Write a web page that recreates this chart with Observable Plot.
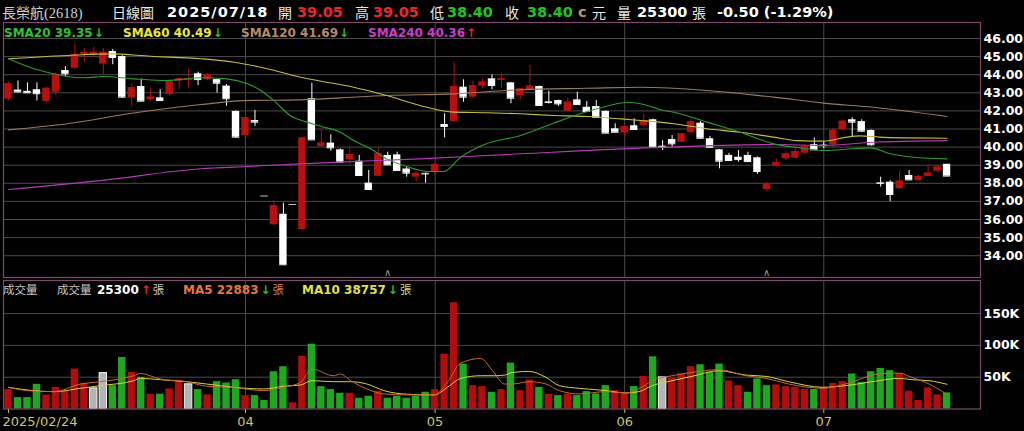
<!DOCTYPE html>
<html><head><meta charset="utf-8">
<script src="https://cdn.jsdelivr.net/npm/d3@7"></script>
<script src="https://cdn.jsdelivr.net/npm/@observablehq/plot@0.6"></script>
<style>
html,body{margin:0;padding:0;background:#000}
body{width:1024px;height:431px;overflow:hidden;position:relative;font-family:"DejaVu Sans",sans-serif}
#price,#vol{position:absolute;left:0}
#price{top:0}
#vol{top:278px}
.t{position:absolute;white-space:nowrap;line-height:18px}
.b{font-weight:bold;font-family:"DejaVu Sans",sans-serif}
.cjk{font-family:"Noto Sans CJK TC",sans-serif}
</style></head><body>
<div id="price"></div><div id="vol"></div><div id="hdr"></div>
<script>
// ---------- data ----------
const stockName = "長榮航(2618)";
const lastDate = "2025/07/18";
const opens  = [42.65,43.15,43.08,43.17,42.52,43.03,44.23,44.36,45.12,45.06,44.6,45.28,45.0,42.72,43.35,42.61,42.72,42.9,43.64,43.68,44.05,43.72,43.73,43.37,41.97,40.64,41.47,37.3,35.71,36.29,36.83,35.45,42.67,40.03,40.22,39.85,39.3,39.22,38.01,38.39,39.54,39.57,38.79,38.34,38.55,38.61,41.25,41.41,43.31,42.76,43.37,43.77,43.68,43.55,42.85,43.17,43.35,42.5,42.57,41.98,42.61,42.2,42.24,41.97,41.01,40.77,41.18,41.19,41.51,40.05,40.42,40.27,40.79,41.32,40.46,39.85,39.54,39.44,39.54,39.41,37.66,38.98,39.35,39.39,39.66,40.13,40.11,40.13,40.97,41.51,41.41,40.92,38.03,38.06,37.7,38.43,38.15,38.38,38.67,39.05];
const highs  = [43.6,43.65,43.55,43.55,43.3,44.1,44.45,45.7,45.45,45.5,45.45,45.4,45.05,43.5,43.77,43.25,43.17,43.7,43.83,44.27,44.14,44.05,43.75,43.46,42.0,42.12,42.02,37.3,37.05,36.9,36.83,40.5,43.53,40.92,40.68,39.9,40.0,39.54,38.71,39.96,39.72,39.72,38.89,38.65,38.56,39.11,41.84,44.69,43.72,43.64,43.77,43.99,44.08,43.57,43.25,44.51,43.37,43.09,42.6,42.7,43.03,42.52,42.57,42.0,41.29,41.2,41.56,41.8,41.55,40.36,40.64,40.75,41.56,41.41,40.59,39.87,39.66,39.81,39.72,39.45,38.06,39.35,39.77,39.91,40.14,40.51,40.27,41.01,41.47,41.62,41.51,40.95,38.34,38.15,38.67,38.71,38.45,39.0,38.95,39.05];
const lows   = [42.55,43.0,42.98,42.55,42.45,42.85,43.9,44.3,44.7,44.93,44.0,44.55,42.7,42.2,42.5,42.48,42.55,42.8,43.13,43.25,43.4,43.68,42.98,42.26,40.5,40.6,41.14,37.3,35.65,33.5,36.83,35.45,40.4,40.0,39.77,39.1,39.04,38.4,37.65,38.35,39.0,38.7,38.34,38.1,38.0,38.43,40.51,41.35,42.48,42.67,43.22,43.17,43.22,42.39,42.61,43.13,42.28,42.39,42.24,41.95,42.33,41.93,41.63,40.75,40.8,40.6,40.95,41.1,39.97,39.81,40.0,40.25,40.77,40.43,39.95,38.8,39.2,39.17,39.15,38.49,37.51,38.89,39.26,39.37,39.59,39.83,39.9,39.96,40.95,40.55,40.83,40.05,37.79,36.99,37.68,38.15,38.1,38.35,38.6,38.40];
const closes = [43.5,43.05,43.0,42.95,43.25,44.0,44.05,45.12,45.24,45.24,45.24,44.95,42.76,43.28,42.54,42.76,42.57,43.64,43.77,43.77,43.73,43.99,43.53,42.67,40.55,41.62,41.38,37.3,36.77,33.5,36.83,40.5,40.4,40.22,39.96,39.17,39.59,38.43,37.66,39.63,39.02,38.71,38.56,38.55,38.52,39.04,41.14,43.35,42.76,43.4,43.59,43.4,43.77,42.70,43.22,43.37,42.3,42.46,42.39,42.48,42.35,41.97,41.65,40.77,40.82,41.14,40.97,41.47,40.0,40.0,40.18,40.73,41.41,40.49,39.99,39.22,39.26,39.31,39.2,38.65,37.93,39.13,39.63,39.76,40.03,39.85,40.08,40.92,41.43,41.38,40.88,40.13,38.0,37.38,38.12,38.19,38.38,38.56,38.9,38.40];
// volume in thousands of lots (張)
const volumes = [30.5,18,18,38.8,22,34,27.9,62.8,40.3,32.5,56.5,36.7,81,57.5,49.7,23.2,23.2,31.5,44,38.8,30.5,22.1,43,40.9,46.1,21.1,21.1,13.3,58.6,66.4,9.6,82.6,101.8,35.2,30.5,24.7,24.7,16.9,20,27.9,16.9,20,16.9,20,26.3,30.5,86.2,167,70.6,36.7,35.2,26.3,30.5,72.2,28.9,45.6,34.1,23.2,21.1,23.2,21.1,27.3,23.7,36.7,28.9,23.7,35.2,51.3,82,49.7,48.1,55,66.4,69.5,57.5,70.6,44,36.7,26.3,47.2,36.7,37.8,35.2,34.1,30.5,30.5,34.1,40.3,43,55,41.9,58.6,63.8,60.2,56,27.9,13.3,33.1,22.1,25.3];
// r = up, g = down, w = unchanged (vs previous close), ten bars per chunk
const volDirChunks = ["rgggrrrrrw","wggrgrgrrw","grgggrgggg","rrggggrggr","gggggrrrgr","rgrgrrgrgr","ggggrrgrgw","rrrgggrrgg","grrrrgrrrg","ggggrrrrrg"];
// moving averages: [bar index, value]
const sma20 = [[0,44.88],[2.7,44.33],[4.8,44.05],[6.2,43.9],[8,43.83],[10,43.9],[13.2,43.77],[16.7,43.68],[20.3,43.83],[23,43.77],[25.2,43.5],[26.6,43.13],[28,42.57],[29.7,41.75],[31.5,41.38],[33,41.14],[35,40.82],[36.4,40.36],[38.2,39.91],[39.9,39.35],[42,38.93],[44.2,38.65],[45.9,38.65],[47.7,39.44],[50.2,40.14],[54,40.64],[57.5,41.32],[60.3,41.84],[63.1,42.26],[65.3,42.48],[67.4,42.3],[68.8,42.06],[70.2,41.93],[73.7,41.38],[77.2,40.82],[80.7,40.18],[83.5,39.96],[86,39.81],[89.1,39.91],[90.9,39.96],[93,39.63],[95.5,39.44],[99,39.35]];
const sma60 = [[0,44.88],[6.2,45.06],[10.8,45.15],[15,45.02],[20.3,44.88],[23.8,44.69],[27.3,44.33],[30.8,43.86],[33,43.64],[36.4,43.31],[39.9,42.85],[43.4,42.3],[47,41.93],[50.5,41.9],[54,41.84],[57.5,41.75],[61,41.69],[64.6,41.56],[66.7,41.47],[70.2,41.29],[73.7,41.01],[77.2,40.82],[80.7,40.55],[83.2,40.36],[86,40.33],[88.4,40.55],[89.8,40.62],[91.9,40.55],[94.7,40.51],[99,40.49]];
const sma120 = [[0,40.95],[6.2,41.29],[13.2,41.88],[20.3,42.35],[24.8,42.57],[30.8,42.61],[35,42.72],[39.9,42.85],[47,42.94],[54,43.17],[61,43.25],[66.7,43.31],[73.7,43.13],[80.7,42.76],[86,42.43],[91.2,42.2],[99,41.69]];
const sma240 = [[0,37.66],[9.7,38.15],[20.3,38.8],[25.2,38.93],[33,39.13],[43.4,39.35],[54,39.63],[68,39.97],[80.7,40.14],[86,40.09],[91.2,40.27],[99,40.36]];
const volMa5 = [[0,34.1],[2,28.9],[4.8,27.3],[7.6,39.3],[9.7,42.9],[13.2,52.3],[13.9,55.9],[16,47.1],[18.8,42.9],[20.9,35.7],[23.8,33.6],[26.9,28.9],[29,34.1],[30.8,41.9],[32,62.8],[34.3,52.3],[35,55],[36.1,44.5],[37.8,31.5],[39.6,23.7],[42.1,22.1],[44.9,22.1],[46.3,41.9],[47.7,72.2],[49.8,79.4],[51.2,57.5],[52.3,39.3],[53.2,39.3],[54.9,42.9],[56.7,39.3],[58.1,28.9],[60.2,23.7],[63,27.3],[65.1,25.2],[66.5,31.5],[67.9,44.5],[70,52.3],[72.1,57.5],[74.9,61.8],[77.8,52.3],[79.9,48.1],[82.3,39.3],[85.9,32.5],[88.3,39.3],[91.8,55],[93.9,56.4],[95.3,49.7],[97.1,39.3],[99,22.9]];
const volMa10 = [[0,34.1],[2,29.9],[4.8,27.3],[7.6,32.5],[9.7,36.7],[13.2,44.5],[13.9,48.1],[16,46.1],[18.8,42.9],[20.9,39.3],[23.8,34.1],[26.9,31.5],[29,35.7],[30.8,37.8],[32,44.5],[34.3,42.9],[36.1,42.9],[37.8,39.3],[39.6,28.9],[42.1,23.2],[44.9,22.1],[46.3,34.1],[47.7,48.1],[49.8,52.3],[51.2,52.3],[52.3,53.3],[53.2,57.5],[54.9,59.1],[56.7,49.7],[58.1,36.7],[60.2,32.5],[63,29],[65.1,25.2],[66.5,27.3],[67.9,36.7],[70,44.5],[72.1,51.3],[74.9,60.2],[77.8,53.3],[79.9,51.3],[82.3,42.9],[85.9,34.1],[88.3,36.7],[91.8,44.5],[93.9,48.1],[95.3,46.1],[97.1,44.5],[99,38.8]];
const monthIdx = [0,25,45,65,86];
const monthLabels = ["2025/02/24","04","05","06","07"];
const priceTicks = [34,35,36,37,38,39,40,41,42,43,44,45,46];
const volTicks = [50,100,150];
const markIdx = [40,80];
const smaArrows = ["↓","↓","↓","↑"];
const volMa5Last = 22883, volMa10Last = 38757;
const volArrows = ["↑","↓","↓"];

// ---------- build ----------
const volDir = volDirChunks.join("");
const candles = closes.map((c,i)=>({i, o:opens[i], h:highs[i], l:lows[i], c, v:volumes[i], d:volDir[i]}));
const RED="#b80f0f", WHITE="#ffffff", FLAT="#c4c4c4", GRID="#4a4a4a", FRAME="#7d4a68";
const cCol = d => d.c > d.o ? RED : d.c < d.o ? WHITE : FLAT;
const vCol = d => d.d === "r" ? "#b30c0c" : d.d === "g" ? "#1fa81f" : "#b4b4b4";
const xDom = [-0.527, 102.53];
const hw = 0.39;

const price = Plot.plot({
  width:1024, height:280, marginTop:22, marginBottom:3, marginLeft:3, marginRight:44,
  style:{background:"transparent", overflow:"visible"},
  x:{type:"linear", domain:xDom, axis:null},
  y:{domain:[32.796,46.884], axis:null},
  marks:[
    Plot.ruleY(priceTicks, {stroke:GRID, strokeWidth:1}),
    Plot.ruleX(monthIdx.slice(1), {stroke:GRID, strokeWidth:1}),
    Plot.ruleX(candles, {x:"i", y1:"l", y2:"h", stroke:cCol, strokeWidth:1}),
    Plot.rect(candles, {x1:d=>d.i-hw, x2:d=>d.i+hw, y1:"o", y2:"c", fill:cCol}),
    Plot.ruleY(candles, {y:"c", x1:d=>d.i-hw, x2:d=>d.i+hw, stroke:cCol, strokeWidth:1}),
    Plot.line(sma240, {x:d=>d[0], y:d=>d[1], stroke:"#b43cb4", strokeWidth:1.1, curve:"monotone-x"}),
    Plot.line(sma120, {x:d=>d[0], y:d=>d[1], stroke:"#9a7a5c", strokeWidth:1.1, curve:"monotone-x"}),
    Plot.line(sma60, {x:d=>d[0], y:d=>d[1], stroke:"#c2bc44", strokeWidth:1.1, curve:"monotone-x"}),
    Plot.line(sma20, {x:d=>d[0], y:d=>d[1], stroke:"#2f9a2f", strokeWidth:1.1, curve:"monotone-x"}),
    Plot.text(markIdx, {x:d=>d, frameAnchor:"bottom", dy:-2, text:()=>"∧", fill:"#9a9a9a", fontSize:10}),
    Plot.text(priceTicks, {y:d=>d, frameAnchor:"right", textAnchor:"start", dx:3, text:d=>d.toFixed(2), fill:"#ffffff", fontWeight:"bold", fontSize:12.5, fontFamily:"DejaVu Sans"}),
    Plot.frame({stroke:FRAME, strokeWidth:1.2})
  ]
});
document.getElementById("price").append(price);

const vol = Plot.plot({
  width:1024, height:153, marginTop:2, marginBottom:22.5, marginLeft:3, marginRight:44,
  style:{background:"transparent", overflow:"visible"},
  x:{type:"linear", domain:xDom, axis:null},
  y:{domain:[0,202], axis:null},
  marks:[
    Plot.ruleY(volTicks, {stroke:GRID, strokeWidth:1}),
    Plot.ruleX(monthIdx.slice(1), {stroke:GRID, strokeWidth:1}),
    Plot.rect(candles, {x1:d=>d.i-hw, x2:d=>d.i+hw, y1:0, y2:"v", fill:vCol, stroke:d=>d.d==="w"?"#f0f0f0":"none", strokeWidth:1}),
    Plot.line(volMa10, {x:d=>d[0], y:d=>d[1], stroke:"#d8d244", strokeWidth:1, curve:"monotone-x"}),
    Plot.line(volMa5, {x:d=>d[0], y:d=>d[1], stroke:"#c4682e", strokeWidth:1, curve:"monotone-x"}),
    Plot.text(volTicks, {y:d=>d, frameAnchor:"right", textAnchor:"start", dx:3, text:d=>d+"K", fill:"#ffffff", fontWeight:"bold", fontSize:12.5, fontFamily:"DejaVu Sans"}),
    Plot.ruleX(monthIdx, {y1:0, y2:-7, stroke:"#c8bf6a", strokeWidth:1}),
    Plot.text(monthIdx.slice(0,1), {x:d=>d, frameAnchor:"bottom", dy:17, dx:-6, textAnchor:"start", text:()=>monthLabels[0], fill:"#cfc36c", fontSize:13, fontFamily:"DejaVu Sans"}),
    Plot.text(monthIdx.slice(1), {x:d=>d, frameAnchor:"bottom", dy:17, textAnchor:"middle", text:(d,i)=>monthLabels[i+1], fill:"#cfc36c", fontSize:13, fontFamily:"DejaVu Sans"}),
    Plot.frame({stroke:FRAME, strokeWidth:1.2})
  ]
});
document.getElementById("vol").append(vol);

// ---------- header & legends (real text) ----------
const hdr = document.getElementById("hdr");
// parts: [text, color, class, size, extraStyle]
function group(left, top, parts){
  const g = document.createElement("span");
  g.className = "t";
  g.style.left = left+"px"; g.style.top = top+"px";
  for (const [txt,color,cls,size,extra] of parts){
    const s = document.createElement("span");
    s.className = cls || "";
    s.textContent = txt;
    s.style.color = color; s.style.fontSize = size+"px";
    if (extra) Object.assign(s.style, extra);
    g.append(s);
  }
  hdr.append(g);
}
const n = closes.length-1;
const chg = closes[n]-closes[n-1];
const pct = chg/closes[n-1]*100;
const upC="#e8282a", dnC="#22c422", lab="#e8e8e8";
const pc = (v)=> v>closes[n-1]?upC: v<closes[n-1]?dnC:"#fff";
group(2, 3, [[stockName.slice(0,3), "#d0d0d0", "cjk", 14],[stockName.slice(3), "#d0d0d0", "", 14.5, {fontFamily:"Liberation Serif"}]]);
group(112, 3, [["日線圖", lab, "cjk", 14]]);
group(167, 3, [[lastDate, "#fff", "b", 14.5, {letterSpacing:"1px"}]]);
group(278, 3, [["開", lab, "cjk", 14]]);
group(297, 3, [[opens[n].toFixed(2), pc(opens[n]), "b", 14.5]]);
group(355, 3, [["高", lab, "cjk", 14]]);
group(373, 3, [[highs[n].toFixed(2), pc(highs[n]), "b", 14.5]]);
group(430, 3, [["低", lab, "cjk", 14]]);
group(447, 3, [[lows[n].toFixed(2), pc(lows[n]), "b", 14.5]]);
group(505, 3, [["收", lab, "cjk", 14]]);
group(527, 3, [[closes[n].toFixed(2), pc(closes[n]), "b", 14.5]]);
group(578, 3, [["c", "#b8946c", "b", 14.5]]);
group(592, 3, [["元", lab, "cjk", 14]]);
group(617, 3, [["量", lab, "cjk", 14]]);
group(637, 3, [[String(Math.round(volumes[n]*1000)), "#fff", "b", 14.5]]);
group(692, 3, [["張", lab, "cjk", 14]]);
group(717, 3, [[chg.toFixed(2)+" ("+pct.toFixed(2)+"%)", "#fff", "b", 14.5]]);

// price legend
const smaDefs = [["SMA20",sma20,"#33c033",4],["SMA60",sma60,"#e8e83c",123],["SMA120",sma120,"#b48c6c",241],["SMA240",sma240,"#cc3ccc",368]];
smaDefs.forEach(([name,arr,col,left],k)=>{
  const a = smaArrows[k];
  group(left, 22.5, [[name+" "+arr[arr.length-1][1].toFixed(2), col, "b", 12],[a, a==="↑"?"#e82020":"#22c422", "b", 12, {marginLeft:"1px"}]]);
});

// volume legend
const vg = "#c8c8c8";
group(3, 280, [["成交量", vg, "cjk", 11.5]]);
group(57, 280, [["成交量", vg, "cjk", 11.5]]);
group(97, 280, [[String(Math.round(volumes[n]*1000)), "#fff", "b", 12],[volArrows[0], "#e82020", "b", 12, {marginLeft:"2px"}],["張", vg, "cjk", 11.5, {marginLeft:"2px"}]]);
group(183, 280, [["MA5 "+volMa5Last, "#e27a3c", "b", 12],[volArrows[1], "#22c422", "b", 12, {marginLeft:"2px"}],["張", "#d08050", "cjk", 11.5, {marginLeft:"2px"}]]);
group(302, 280, [["MA10 "+volMa10Last, "#e2e04a", "b", 12],[volArrows[2], "#22c422", "b", 12, {marginLeft:"2px"}],["張", "#d8d868", "cjk", 11.5, {marginLeft:"2px"}]]);
</script>
</body></html>
